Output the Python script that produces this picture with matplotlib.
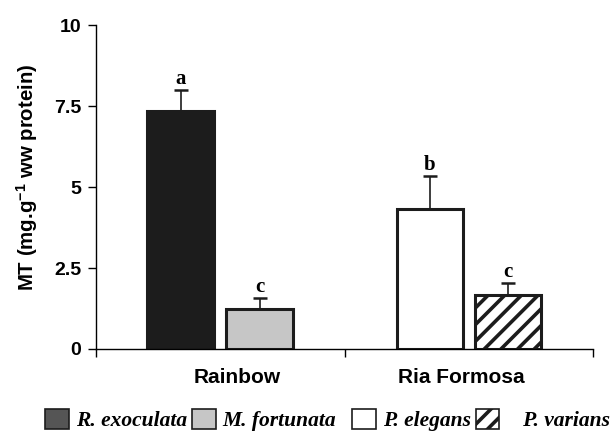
import matplotlib
matplotlib.use('Agg')
import matplotlib.pyplot as plt
from matplotlib.patches import Patch
import numpy as np

# data
sites = ['Rainbow', 'Ria Formosa']
species = ['R. exoculata', 'M. fortunata', 'P. elegans', 'P. varians']
site_of = [0, 0, 1, 1]
means = [7.35, 1.25, 4.33, 1.68]
errs = [0.65, 0.32, 1.02, 0.35]
letters = ['a', 'c', 'b', 'c']

fills = ['#1c1c1c', '#c6c6c6', 'white', 'white']
hatches = [None, None, None, '//']
legend_fills = ['#555555', '#c6c6c6', 'white', 'white']

plt.rcParams['font.family'] = 'Liberation Sans'
plt.rcParams['mathtext.fontset'] = 'custom'
plt.rcParams['mathtext.bf'] = 'Liberation Sans:bold'
plt.rcParams['mathtext.rm'] = 'Liberation Sans'
plt.rcParams['hatch.linewidth'] = 2.6

fig = plt.figure(figsize=(6.14, 4.33), dpi=100)
ax = fig.add_axes([0.1564, 0.194, 0.8094, 0.748])

offsets = [-0.16, 0.158, -0.156, 0.158]
xpos = np.array(site_of) + 0.5 + np.array(offsets)
width = 0.268

for i in range(4):
    ax.bar(xpos[i], means[i], width, color=fills[i], edgecolor='#1c1c1c',
           linewidth=2.2, hatch=hatches[i], zorder=2)
    ax.errorbar(xpos[i], means[i], yerr=[[0], [errs[i]]], fmt='none',
                ecolor='#1c1c1c', elinewidth=1.2, capsize=5, capthick=1.8, zorder=1)
    ax.text(xpos[i], means[i] + errs[i] + 0.03, letters[i], ha='center', va='bottom',
            family='Liberation Serif', fontweight='bold', fontsize=15)

ax.set_xlim(0, 2)
ax.set_ylim(0, 10)
ax.set_yticks([0, 2.5, 5, 7.5, 10])
ax.set_yticklabels(['0', '2.5', '5', '7.5', '10'], fontweight='bold', fontsize=14)
ax.set_xticks([0, 1, 2])
ax.set_xticklabels([])
ax.tick_params(axis='both', direction='out', length=5.5, width=1, pad=5)
ax.spines['top'].set_visible(False)
ax.spines['right'].set_visible(False)
ax.spines['left'].set_linewidth(1)
ax.spines['bottom'].set_linewidth(1)

label_x = [0.57, 1.47]
for i, s in enumerate(sites):
    ax.text(label_x[i], -0.058, s, transform=ax.get_xaxis_transform(), ha='center', va='top',
            fontweight='bold', fontsize=15)

ax.set_ylabel('MT (mg.g$^{\\mathbf{-1}}$ ww protein)', fontweight='bold', fontsize=14.7)
ax.yaxis.set_label_coords(-0.112, 0.53)

handles = []
for i in range(4):
    handles.append(Patch(facecolor=legend_fills[i], edgecolor='#1c1c1c', linewidth=1.2,
                         hatch=hatches[i]))
labels = ['R. exoculata', 'M. fortunata  ', 'P. elegans', '   P. varians']
fig.legend(handles, labels, loc='center', bbox_to_anchor=(0.533, 0.03), ncol=4,
           frameon=False, handlelength=1.1, handleheight=1.05, handletextpad=0.33,
           columnspacing=0.23, borderpad=0.1, prop={'family': 'Liberation Serif', 'weight': 'bold',
                                    'style': 'italic', 'size': 15.5})

fig.savefig('out.png', dpi=100)
